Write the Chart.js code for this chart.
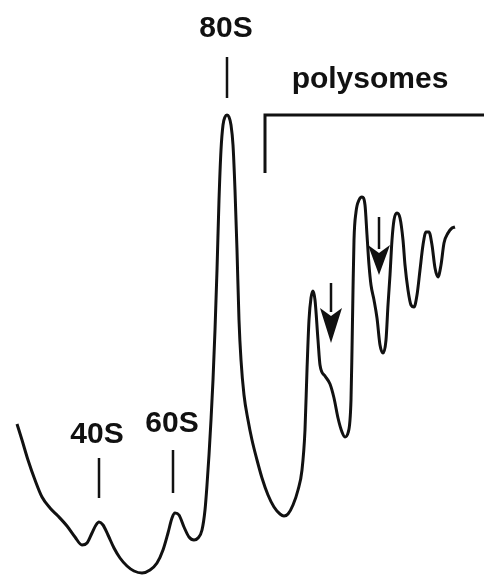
<!DOCTYPE html>
<html>
<head>
<meta charset="utf-8">
<script src="https://cdn.jsdelivr.net/npm/chart.js@4.4.1/dist/chart.umd.min.js"></script>
<style>
html,body{margin:0;padding:0;background:#fff;}
#wrap{width:484px;height:576px;position:relative;}
</style>
</head>
<body>
<div id="wrap"><canvas id="c"></canvas></div>
<script>
// Gradient position (arbitrary units, left = top of gradient)
const position = [17,22,28,35,42,50,58,67,75,82,87,92,96,99,103,108,114,120,127,134,142,150,157,163,168,172,175,179,184,189,194,198,202,205,207,209,211,213,215,217,219,221,223,225,227,229,231,233,235,237,239,241,244,248,252,257,262,268,274,280,284,288,293,298,302,305,307,309,311,313,315,318,320,325,330,334,338,342,345,348,351,352,353,354,356,359,362,365,367,369,371,374,377,380,383,386,388,390,392,394,397,400,403,405,408,411,414,417,420,423,426,429,432,435,438,441,444,448,452,455];
// Absorbance (A254, arbitrary units)
const absorbance = [152,136,116,96,79,68,60,50,39,31,33,43,51,54,51,41,28,18,10,5,3,6,13,26,43,58,63,61,49,39,36,38,46,66,91,121,156,196,246,306,376,426,451,459,461,459,451,431,386,326,256,216,181,156,136,116,98,81,69,62,60,62,71,86,106,146,206,256,278,285,276,236,211,200,192,178,158,144,139,143,176,226,286,336,364,376,379,371,341,311,291,276,258,231,223,236,271,301,336,356,363,358,336,311,286,271,269,281,306,331,344,344,331,308,299,311,333,343,348,349];

// Peak labels
const peakLabels = ["40S","60S","80S","polysomes"];
const labelX = [97,172,226,370];
const labelY = [133,144,539,488];
// Peak marker ticks: [x, yTop, yBottom]
const tickX = [99,173,227];
const tickTop = [118,126,519];
const tickBottom = [78,83,478];
// Polysome bracket
const bracketX = [265,265,484];
const bracketY = [403,461,461];
// Arrows: x, shaft top, head start, tip
const arrowX = [331,379];
const arrowTop = [293,359];
const arrowHead = [268,331];
const arrowTip = [233,301];

const curve = position.map((x,i)=>({x:x,y:absorbance[i]}));
const markerSets = tickX.map((x,i)=>({
  data:[{x:x,y:tickTop[i]},{x:x,y:tickBottom[i]}],
  borderColor:'#111',borderWidth:2.5,pointRadius:0,tension:0,clip:false
}));
const bracket = {
  data: bracketX.map((x,i)=>({x:x,y:bracketY[i]})),
  borderColor:'#111',borderWidth:3,pointRadius:0,tension:0,clip:false,borderCapStyle:'butt'
};

const annot = {
  id:'annot',
  afterDatasetsDraw(chart){
    const ctx = chart.ctx, xs = chart.scales.x, ys = chart.scales.y;
    ctx.save();
    ctx.fillStyle='#111';
    ctx.font='bold 30px "Liberation Sans", Arial, sans-serif';
    ctx.textAlign='center';
    ctx.textBaseline='alphabetic';
    peakLabels.forEach((t,i)=>{
      ctx.fillText(t, xs.getPixelForValue(labelX[i]), ys.getPixelForValue(labelY[i]));
    });
    ctx.strokeStyle='#111';
    arrowX.forEach((x,i)=>{
      const px = xs.getPixelForValue(x);
      const yt = ys.getPixelForValue(arrowTop[i]);
      const yh = ys.getPixelForValue(arrowHead[i]);
      const yp = ys.getPixelForValue(arrowTip[i]);
      ctx.lineWidth=2.5;
      ctx.beginPath(); ctx.moveTo(px,yt); ctx.lineTo(px,yh+4); ctx.stroke();
      ctx.beginPath();
      ctx.moveTo(px-11,yh); ctx.lineTo(px,yh+8); ctx.lineTo(px+11,yh); ctx.lineTo(px,yp); ctx.closePath();
      ctx.fill();
    });
    ctx.restore();
  }
};

new Chart(document.getElementById('c'),{
  type:'line',
  data:{datasets:[
    {data:curve,borderColor:'#111',borderWidth:3,pointRadius:0,tension:0.4,cubicInterpolationMode:'monotone',clip:false},
    ...markerSets,
    bracket
  ]},
  options:{
    responsive:true,maintainAspectRatio:false,animation:false,
    layout:{padding:0},
    plugins:{legend:{display:false},tooltip:{enabled:false}},
    scales:{
      x:{type:'linear',min:0,max:484,display:false},
      y:{type:'linear',min:0,max:576,display:false}
    }
  },
  plugins:[annot]
});
</script>
</body>
</html>
